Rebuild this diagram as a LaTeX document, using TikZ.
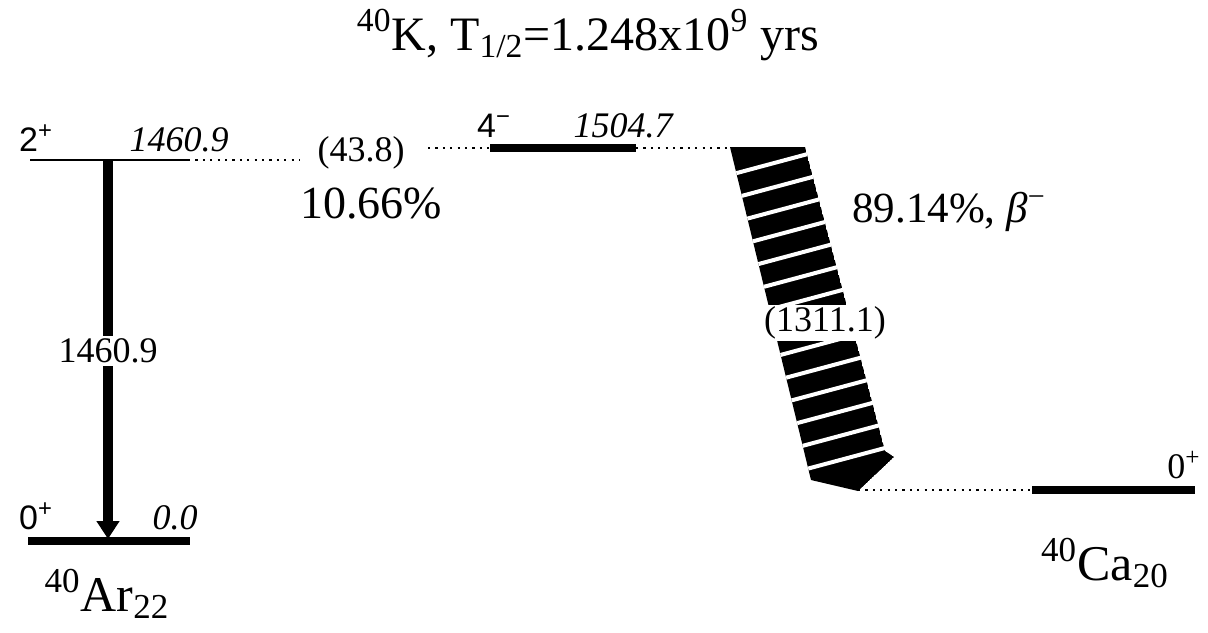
\documentclass[tikz,border=0pt]{standalone}
\usepackage{fontspec}
\setmainfont{Liberation Serif}
\newfontfamily\arialfont{Liberation Sans}
\usetikzlibrary{positioning, calc, arrows.meta}

\tikzset{
  lvl/.style={line width=4pt},
  lvlthin/.style={line width=1pt},
  feed/.style={dash pattern=on 1.1pt off 2.6pt, line width=0.9pt},
  spin/.style={font=\arialfont\fontsize{17}{19}\selectfont, anchor=base, inner sep=0pt},
  spinrm/.style={font=\fontsize{18}{20}\selectfont, anchor=base, inner sep=0pt},
  energy/.style={font=\itshape\fontsize{18}{20}\selectfont, anchor=base, inner sep=0pt},
  gline/.style={font=\fontsize{18}{20}\selectfont, fill=white, inner sep=1.5pt},
  branch/.style={font=\fontsize{23}{26}\selectfont, anchor=base, inner sep=0pt},
  nucl/.style={font=\fontsize{25}{28}\selectfont, anchor=base, inner sep=0pt}
}

\begin{document}
\begin{tikzpicture}[x=0.5pt, y=-0.5pt]
    \useasboundingbox (0,0) rectangle (1208,632);

    % Title
    \node[font=\fontsize{24}{27}\selectfont, anchor=base, inner sep=0pt] (title) at (588,50)
        {\textsuperscript{40}K, T\textsubscript{1/2}=1.248x10\textsuperscript{9} yrs};

    % 40Ar levels
    \coordinate (arTwoL) at (30,160);
    \coordinate (arTwoR) at (188,160);
    \coordinate (arTwoM) at (108,160);
    \coordinate (arZeroL) at (28,541);
    \coordinate (arZeroR) at (190,541);
    \coordinate (arZeroM) at (108,539);
    \draw[lvlthin] (arTwoL) -- (arTwoR);
    \draw[lvl] (arZeroL) -- (arZeroR);
    \node[spin] (arTwoSpin) at (36,151) {2\textsuperscript{+}};
    \node[energy] (arTwoE) at (179,151) {1460.9};
    \node[spin] (arZeroSpin) at (36,529) {0\textsuperscript{+}};
    \node[energy] (arZeroE) at (175,529) {0.0};
    \node[nucl] (arName) at (107,611) {\textsuperscript{40}Ar\textsubscript{22}};

    % Gamma transition
    \draw[line width=5pt, -{Triangle[length=9pt, width=11pt]}] (arTwoM) -- (arZeroM);
    \node[gline] (gamma) at (108,351) {1460.9};

    % Electron capture branch
    \coordinate (ecEnd) at (300,160);
    \node[font=\fontsize{18}{20}\selectfont, inner sep=0pt] (ecE) at (361,153) {(43.8)};
    \coordinate (ecStart) at (428,148);
    \draw[feed] (arTwoR) -- (ecEnd);
    \draw[feed] (ecStart) -- (490,148);
    \node[branch] (ecPct) at (371,218) {10.66\%};

    % 40K level
    \coordinate (kL) at (490,148);
    \coordinate (kR) at (636,148);
    \draw[lvl] (kL) -- (kR);
    \node[spin] (kSpin) at (494,137) {4\textsuperscript{\char"2212}};
    \node[energy] (kE) at (623,137) {1504.7};
    \coordinate (betaTop) at (730,148);
    \draw[feed] (kR) -- (betaTop);

    % Beta branch (hatched arrow)
    \begin{scope}
        \clip (730,147) -- (805,147) -- (885,451) -- (894,457) -- (858,491) -- (811,480) -- cycle;
        \fill[black] (730,147) -- (805,147) -- (885,451) -- (894,457) -- (858,491) -- (811,480) -- cycle;
        \foreach \k in {0,...,13} {
            \pgfmathsetmacro{\ya}{173+22.6*\k}
            \pgfmathsetmacro{\xa}{730+0.265*(\ya-147)}
            \draw[white, line width=2pt] (\xa-10*0.966,\ya+10*0.259) -- (\xa+100*0.966,\ya-100*0.259);
        }
    \end{scope}
    \node[font=\fontsize{18}{20}\selectfont, fill=white, inner sep=1pt] (betaE) at (825,323) {(1311.1)};
    \node[branch, anchor=base west, font=\fontsize{21.5}{24}\selectfont] (betaPct) at (852,222)
        {89.14\%, {\itshape β}\textsuperscript{\char"2212}};

    % 40Ca level
    \coordinate (betaTip) at (858,490);
    \coordinate (caL) at (1032,490);
    \coordinate (caR) at (1195,490);
    \draw[feed] (betaTip) -- (caL);
    \draw[lvl] (caL) -- (caR);
    \node[spinrm] (caSpin) at (1184,478) {0\textsuperscript{+}};
    \node[nucl] (caName) at (1105,580) {\textsuperscript{40}Ca\textsubscript{20}};
\end{tikzpicture}
\end{document}
